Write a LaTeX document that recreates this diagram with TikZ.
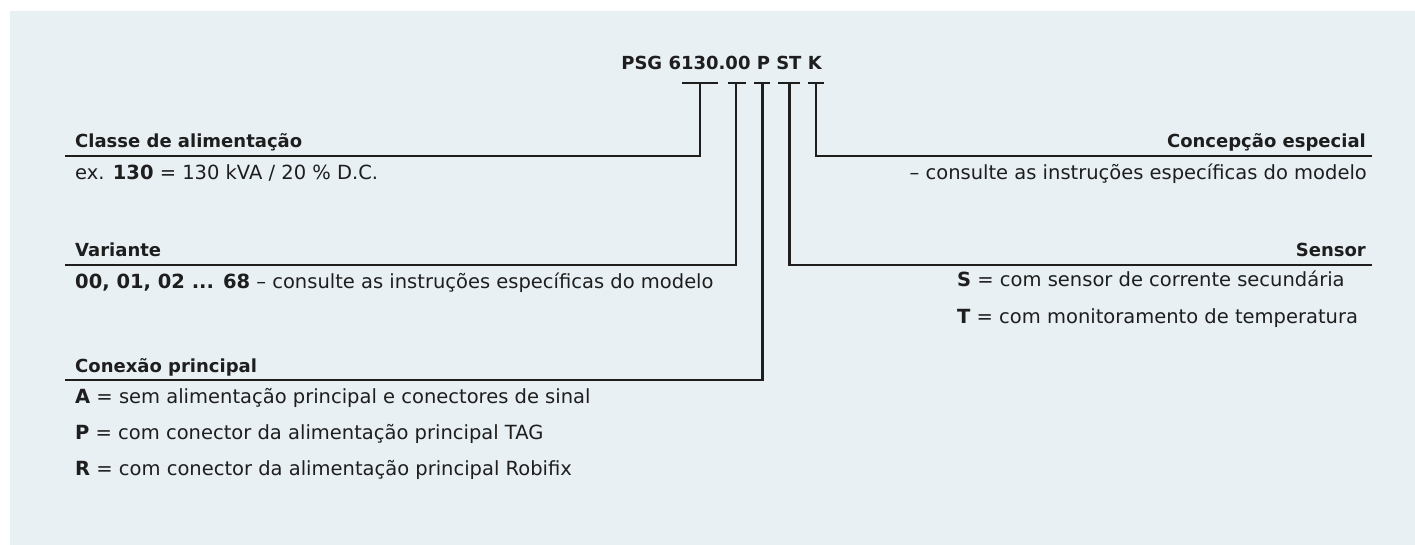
\documentclass[tikz,border=0pt]{standalone}
\usepackage{fontspec}
\setmainfont{DejaVu Sans}
\definecolor{bg}{RGB}{232,240,244}
\definecolor{ink}{RGB}{30,30,30}
\begin{document}
\begin{tikzpicture}[x=1pt,y=-1pt,
  lbl/.style={inner sep=0pt, text=ink, font=\fontsize{19.5}{23}\selectfont},
  head/.style={inner sep=0pt, text=ink, font=\fontsize{18}{22}\selectfont\bfseries},
  wire/.style={draw=ink, line width=2.9pt, line join=miter},
]
\useasboundingbox (0,0) rectangle (1415,545);
\fill[bg] (10,11) rectangle (1415,545);

% code
\node[head, anchor=base] (code) at (721.5,70) {PSG 6130.00 P ST K};

% bar coordinates
\coordinate (b1l) at (682,83);  \coordinate (b1r) at (718,83);  \coordinate (b1) at (700,83);
\coordinate (b2l) at (728,83);  \coordinate (b2r) at (746,83);  \coordinate (b2) at (736,83);
\coordinate (b3l) at (754,83);  \coordinate (b3r) at (770,83);  \coordinate (b3) at (762.3,83);
\coordinate (b4l) at (778,83);  \coordinate (b4r) at (800,83);  \coordinate (b4) at (789.3,83);
\coordinate (b5l) at (808,83);  \coordinate (b5r) at (824,83);  \coordinate (b5) at (816,83);

% line ends
\coordinate (e1) at (65,156);
\coordinate (e2) at (65,265);
\coordinate (e3) at (65,380);
\coordinate (e4) at (1372,265);
\coordinate (e5) at (1372,156);

% left labels
\node[head, anchor=base west] (h1) at (75,148) {Classe de alimentação};
\node[lbl, anchor=base west] (t1) at (75,180) {ex. \textbf{130} = 130 kVA / 20 \% D.C.};

\node[head, anchor=base west] (h2) at (75,257) {Variante};
\node[lbl, anchor=base west] (t2) at (75,288) {\textbf{00, 01, 02 ... 68} – consulte as instruções específicas do modelo};

\node[head, anchor=base west] (h3) at (75,372) {Conexão principal};
\node[lbl, anchor=base west] (t3a) at (75,403) {\textbf{A} = sem alimentação principal e conectores de sinal};
\node[lbl, anchor=base west] (t3b) at (75,439) {\textbf{P} = com conector da alimentação principal TAG};
\node[lbl, anchor=base west] (t3c) at (75,475) {\textbf{R} = com conector da alimentação principal Robifix};

% right labels
\node[head, anchor=base east] (h5) at (1366,148) {Concepção especial};
\node[lbl, anchor=base east] (t5) at (1367,180) {– consulte as instruções específicas do modelo};

\node[head, anchor=base east] (h4) at (1366,257) {Sensor};
\node[lbl, anchor=base west] (t4a) at (957,287) {\textbf{S} = com sensor de corrente secundária};
\node[lbl, anchor=base west] (t4b) at (957,323) {\textbf{T} = com monitoramento de temperatura};

% bars
\foreach \i in {1,...,5} {\draw[wire] (b\i l) -- (b\i r);}

% connectors
\draw[wire] (b1) |- (e1);
\draw[wire] (b2) |- (e2);
\draw[wire] (b3) |- (e3);
\draw[wire] (b4) |- (e4);
\draw[wire] (b5) |- (e5);
\end{tikzpicture}
\end{document}
